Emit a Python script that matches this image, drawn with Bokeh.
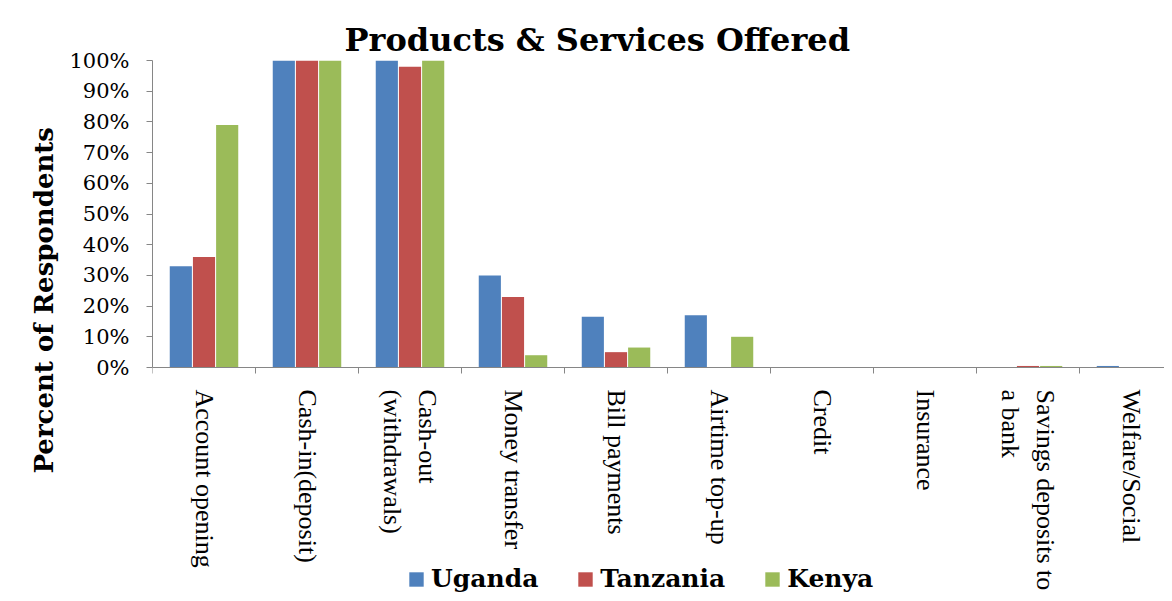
import math
from bokeh.plotting import figure
from bokeh.models import (ColumnDataSource, FixedTicker, NumeralTickFormatter, Range1d,
                          Legend, LegendItem, Title)
from bokeh.transform import dodge
from bokeh.embed import file_html
from bokeh.resources import INLINE

categories = ["Account opening", "Cash-in(deposit)", "Cash-out\n(withdrawals)", "Money transfer",
              "Bill payments", "Airtime top-up", "Credit", "Insurance",
              "Savings deposits to\na bank", "Welfare/Social"]
uganda = [0.33, 1.00, 1.00, 0.30, 0.165, 0.17, 0.0, 0.0, 0.0, 0.005]
tanzania = [0.36, 1.00, 0.98, 0.23, 0.05, 0.0, 0.0, 0.0, 0.005, 0.0]
kenya = [0.79, 1.00, 1.00, 0.04, 0.065, 0.10, 0.0, 0.0, 0.005, 0.0]
y_ticks = [0.0, 0.1, 0.2, 0.3, 0.4, 0.5, 0.6, 0.7, 0.8, 0.9, 1.0]
series_names = ["Uganda", "Tanzania", "Kenya"]
colors = ["#4F81BD", "#C0504D", "#9BBB59"]

idx = list(range(len(categories)))
source = ColumnDataSource(dict(x=idx, Uganda=uganda, Tanzania=tanzania, Kenya=kenya))

W, H = 1164, 593
LEFT, TOP, ZERO_Y = 152, 60, 367
unit_px = ZERO_Y - TOP
y_start = -(H - ZERO_Y) / unit_px
cat_px = 103
x_end = -0.5 + (W - LEFT) / cat_px

p = figure(width=W, height=H, output_backend="svg", toolbar_location=None,
           x_range=Range1d(-0.5, x_end), y_range=Range1d(y_start, 1),
           min_border_left=LEFT, min_border_right=0, min_border_top=TOP, min_border_bottom=0)

p.title.text = "Products & Services Offered"
p.title.text_font = "DejaVu Serif"
p.title.text_font_style = "bold"
p.title.text_font_size = "32px"
p.title.text_color = "#000000"
p.title.align = "left"
p.title.offset = 192
p.title.standoff = 4

offsets = [-0.225, 0.0, 0.225]
renderers = []
for name, col, off in zip(series_names, colors, offsets):
    r = p.vbar(x=dodge("x", off, range=p.x_range), top=name, width=0.215, bottom=0,
               source=source, fill_color=col, line_color=None)
    renderers.append(r)

p.xgrid.visible = False
p.ygrid.visible = False
p.outline_line_color = None

# y axis
ya = p.yaxis[0]
ya.ticker = FixedTicker(ticks=y_ticks)
ya.bounds = (0, 1)
ya.formatter = NumeralTickFormatter(format="0%")
ya.major_label_text_font = "DejaVu Serif"
ya.major_label_text_font_size = "21px"
ya.major_label_text_color = "#000000"
ya.major_label_standoff = 17
ya.axis_line_color = "#868686"
ya.major_tick_line_color = "#868686"
ya.major_tick_out = 6
ya.major_tick_in = 0
ya.minor_tick_line_color = None

ylab = Title(text="Percent of Respondents", text_font="DejaVu Serif", text_font_style="bold",
             text_font_size="26px", text_color="#000000", align="left", offset=120, standoff=15)
p.add_layout(ylab, "left")

# x axis
xa = p.xaxis[0]
xa.fixed_location = 0
boundaries = [i - 0.5 for i in idx] + [len(idx) - 0.5]
xa.ticker = FixedTicker(ticks=idx, minor_ticks=boundaries)
xa.major_label_overrides = {i: c for i, c in zip(idx, categories)}
xa.major_label_orientation = -math.pi / 2
xa.major_label_text_font = "Liberation Serif"
xa.major_label_text_font_size = "26px"
xa.major_label_text_color = "#000000"
xa.major_label_standoff = 16
xa.axis_line_color = "#868686"
xa.major_tick_line_color = None
xa.major_tick_out = 0
xa.minor_tick_line_color = "#868686"
xa.minor_tick_out = 6
xa.minor_tick_in = 0

legend = Legend(items=[LegendItem(label=n, renderers=[r]) for n, r in zip(series_names, renderers)],
                orientation="horizontal", location=(255, 0),
                label_text_font="DejaVu Serif", label_text_font_style="bold",
                label_text_font_size="25px", label_text_color="#000000",
                glyph_width=18, glyph_height=18,
                label_standoff=6, spacing=38, padding=0, margin=0,
                border_line_color=None, background_fill_alpha=0)
p.add_layout(legend, "center")

open("out.html", "w").write(file_html(p, INLINE))
